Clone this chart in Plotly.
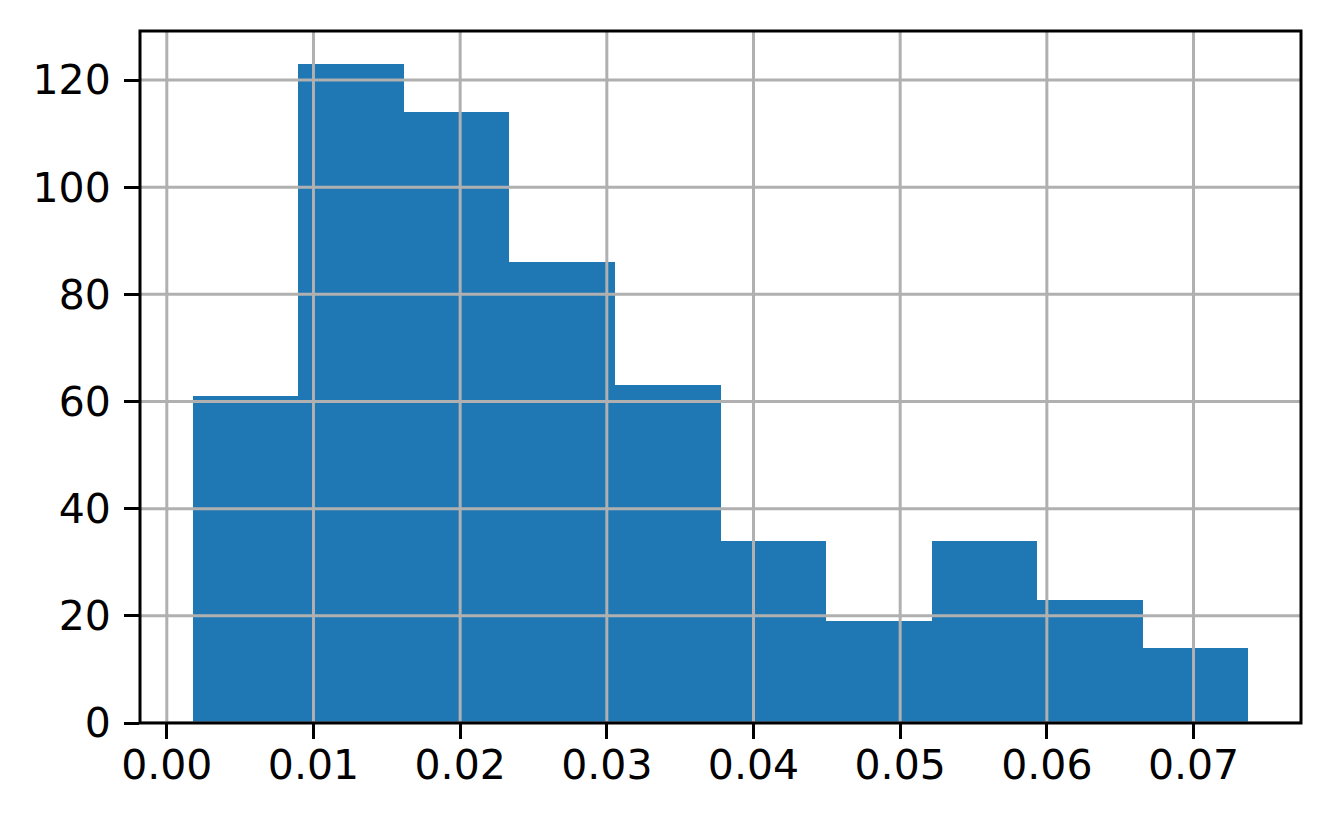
import plotly.graph_objects as go

# Histogram data
bin_edges = [0.00177, 0.00897, 0.01616, 0.02336, 0.03055, 0.03775,
             0.04495, 0.05214, 0.05934, 0.06653, 0.07373]
counts = [61, 123, 114, 86, 63, 34, 19, 34, 23, 14]
x_ticks = [0.00, 0.01, 0.02, 0.03, 0.04, 0.05, 0.06, 0.07]
y_ticks = [0, 20, 40, 60, 80, 100, 120]

centers = [(a + b) / 2 for a, b in zip(bin_edges[:-1], bin_edges[1:])]
widths = [b - a for a, b in zip(bin_edges[:-1], bin_edges[1:])]

x_pad = (bin_edges[-1] - bin_edges[0]) * 0.05
x_range = [bin_edges[0] - x_pad, bin_edges[-1] + x_pad]
y_range = [0, max(counts) * 1.05]

fig = go.Figure()
fig.add_trace(go.Bar(
    x=centers, y=counts, width=widths,
    marker=dict(color="#1f77b4", line=dict(width=0)),
    hoverinfo="x+y",
))

grid_color = "#b0b0b0"
shapes = []
for xv in x_ticks:
    shapes.append(dict(type="line", xref="x", yref="paper", x0=xv, x1=xv, y0=0, y1=1,
                       line=dict(color=grid_color, width=3), layer="above"))
for yv in y_ticks:
    shapes.append(dict(type="line", xref="paper", yref="y", x0=0, x1=1, y0=yv, y1=yv,
                       line=dict(color=grid_color, width=3), layer="above"))
# axes frame drawn on top of the grid (like matplotlib spines)
shapes.append(dict(type="rect", xref="paper", yref="paper", x0=0, x1=1, y0=0, y1=1,
                   line=dict(color="black", width=3), fillcolor="rgba(0,0,0,0)",
                   layer="above"))

font = dict(family="DejaVu Sans", size=41, color="black")

fig.update_layout(
    width=1331, height=822,
    margin=dict(l=132, r=38, t=23, b=107),
    paper_bgcolor="white", plot_bgcolor="white",
    bargap=0, showlegend=False,
    shapes=shapes,
    font=font,
    xaxis=dict(range=x_range, tickvals=x_ticks, ticktext=[f"{v:.2f}" for v in x_ticks],
               showgrid=False, zeroline=False, showline=False,
               ticks="outside", ticklen=15, tickwidth=3,
               tickcolor="black", tickfont=font, layer="above traces",
               ticklabelstandoff=-9),
    yaxis=dict(range=y_range, tickvals=y_ticks, ticktext=[str(v) for v in y_ticks],
               showgrid=False, zeroline=False, showline=False,
               ticks="outside", ticklen=15, tickwidth=3,
               tickcolor="black", tickfont=font, layer="above traces",
               ticklabelstandoff=5),
)

fig.write_html("out.html")
